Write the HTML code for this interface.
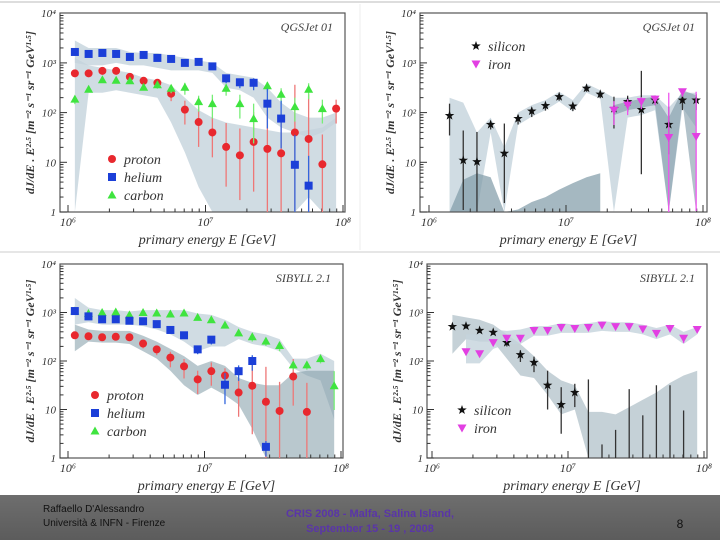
<!DOCTYPE html>
<html><head><meta charset="utf-8"><style>
html,body{margin:0;padding:0;width:720px;height:540px;overflow:hidden;background:#fff;font-family:"Liberation Sans",sans-serif}
svg{position:absolute;left:0;top:0}
</style></head><body>
<svg id="s" width="720" height="540">
<rect x="0" y="0" width="720" height="540" fill="#fff"/>
<line x1="0" y1="2" x2="720" y2="2" stroke="#bbb"/>
<line x1="0" y1="252" x2="720" y2="252" stroke="#ccc"/>
<line x1="360" y1="4" x2="360" y2="250" stroke="#eee"/>
<defs><linearGradient id="fg" x1="0" y1="0" x2="0" y2="1"><stop offset="0" stop-color="#6e6e6e"/><stop offset="1" stop-color="#5c5c5c"/></linearGradient></defs>
<g>
<rect x="0" y="495" width="720" height="45" fill="url(#fg)"/>
<text x="43" y="512" font-size="10" fill="#111">Raffaello D'Alessandro</text>
<text x="43" y="526" font-size="10" fill="#111">Università &amp; INFN - Firenze</text>
<text x="370" y="517" font-size="11" font-weight="bold" fill="#5a35a8" text-anchor="middle">CRIS 2008 -    Malfa, Salina Island,</text>
<text x="370" y="532" font-size="11" font-weight="bold" fill="#5a35a8" text-anchor="middle">September 15 - 19 , 2008</text>
<text x="680" y="528" font-size="12" fill="#111" text-anchor="middle">8</text>
</g>
</svg>
<script>
// bins: log10(E) centres
const binsLog = [6.05,6.15,6.25,6.35,6.45,6.55,6.65,6.75,6.85,6.95,7.05,7.15,7.25,7.35,7.45,7.55,7.65,7.75,7.85,7.95];
// ---- TL (QGSJet proton/helium/carbon), values in log10
const tlProton = [2.79,2.79,2.84,2.84,2.72,2.64,2.60,2.38,2.06,1.81,1.60,1.31,1.14,1.41,1.27,1.18,1.60,1.47,0.96,2.08];
const tlProtonErr = [0.05,0.05,0.05,0.05,0.06,0.06,0.08,0.15,0.3,0.5,0.5,0.8,0.9,1.0,1.3,1.2,1.6,1.5,1.0,0.3];
const tlHelium = [3.22,3.18,3.20,3.18,3.12,3.16,3.10,3.08,3.00,3.02,2.93,2.69,2.61,2.60,2.18,1.88,0.95,0.53];
const tlHeliumErr = [0.04,0.04,0.04,0.04,0.04,0.04,0.04,0.05,0.05,0.05,0.06,0.1,0.12,0.15,0.5,0.6,1.0,1.0];
const tlCarbon = [2.27,2.47,2.66,2.65,2.64,2.51,2.56,2.49,2.51,2.22,2.18,2.49,2.18,1.88,2.54,2.37,2.12,2.47,2.08];
const tlCarbonErr = [0.1,0.06,0.05,0.05,0.05,0.06,0.08,0.1,0.15,0.2,0.3,0.15,0.3,0.5,0.12,0.2,0.3,0.2,0.3];
const tlBandAHi = [3.45,3.30,3.30,3.30,3.22,3.20,3.20,3.15,3.10,3.05,3.00,2.80,2.75,2.70,2.50,2.20,2.00,1.90,1.90,2.00];
const tlBandALo = [3.00,2.95,2.95,3.00,2.95,2.95,2.90,2.85,2.85,2.85,2.80,2.50,2.45,2.30,1.90,1.70,1.60,1.50,1.60,1.80];
const tlBandBHi = [3.10,2.95,2.90,2.85,2.80,2.70,2.65,2.55,2.30,2.05,1.90,1.80,1.75,1.70,1.65,1.60,1.60,1.65,1.70,1.90];
const tlBandBLo = [0.00,2.40,2.40,2.45,2.40,2.35,2.30,1.80,1.20,0.50,0.00,0.00,0.00,0.00,0.00,0.00,0.00,0.30,0.00,0.00];
// ---- TR (QGSJet silicon/iron), silicon starts bin 1, iron bin 13
const trSilicon = [1.94,1.04,1.01,1.76,1.18,1.88,2.03,2.14,2.32,2.13,2.49,2.37,2.08,2.22,2.06,2.25,1.76,2.25,2.25];
const trSiliconErr = [0.4,1.0,1.0,0.1,1.0,0.12,0.12,0.1,0.08,0.1,0.07,0.08,0.4,0.2,1.3,0.1,0.6,0.2,0.2];
const trIron = [2.05,2.15,2.22,2.27,1.50,2.42,1.52];
const trIronErr = [0.3,0.2,0.15,0.12,1.5,0.1,1.5];
const trBandHi = [2.30,2.20,1.60,1.90,1.30,2.00,2.15,2.25,2.42,2.25,2.58,2.45,2.30,2.30,2.35,2.35,2.10,2.40,2.40];
const trBandLo = [0.00,0.00,0.00,1.60,0.00,1.75,1.92,2.05,2.22,2.02,2.40,2.28,0.00,1.90,1.95,2.05,0.00,2.10,1.70];
const trDarkHi = [0.00,0.65,0.78,0.70,0.00,0.05,0.20,0.30,0.45,0.58,0.70,0.78];
const trIronBandHi = [2.15,2.22,2.28,2.32,1.90,2.45,2.35];
const trIronBandLo = [1.95,2.05,2.10,2.15,0.00,2.20,0.00];
// ---- BL (SIBYLL proton/helium/carbon)
const blProton = [2.53,2.51,2.49,2.50,2.49,2.36,2.24,2.07,1.89,1.62,1.79,1.70,1.35,1.49,1.16,0.97,1.68,0.95];
const blProtonErr = [0.07,0.07,0.06,0.07,0.08,0.1,0.12,0.2,0.25,0.3,0.3,0.25,0.5,1.0,1.2,1.0,0.6,1.0];
const blHelium = [3.03,2.92,2.86,2.86,2.83,2.82,2.76,2.64,2.53,2.24,2.44,1.51,1.79,2.00,0.23];
const blHeliumErr = [0.04,0.04,0.04,0.04,0.04,0.04,0.05,0.06,0.06,0.1,0.1,0.4,0.2,0.2,0.2];
const blCarbon = [3.03,2.98,3.00,3.01,2.95,3.00,2.99,2.97,2.99,2.90,2.85,2.74,2.58,2.50,2.41,2.32,1.92,1.92,2.05,1.49];
const blCarbonErr = [0.04,0.04,0.04,0.04,0.04,0.04,0.04,0.04,0.05,0.05,0.05,0.06,0.07,0.1,0.1,0.12,0.1,0.1,0.1,0.5];
const blBandAHi = [3.30,3.10,3.05,3.05,3.02,3.05,3.05,3.05,3.05,2.98,2.95,2.85,2.70,2.60,2.55,2.45,2.05,2.05,2.15,2.00];
const blBandALo = [2.75,2.80,2.75,2.75,2.75,2.72,2.65,2.55,2.40,2.20,2.30,2.30,2.45,2.35,2.30,2.20,1.85,1.70,1.60,0.80];
const blBandBHi = [2.75,2.65,2.62,2.62,2.62,2.52,2.40,2.25,2.10,1.90,2.00,1.90,1.65,1.55,1.50,1.50,1.75,1.80,1.80,1.80];
const blBandBLo = [2.20,2.40,2.38,2.38,2.35,2.20,2.05,1.80,1.50,1.30,1.45,1.30,1.10,0.60,0.00,0.00,0.00,0.00,0.00,0.00];
// ---- BR (SIBYLL silicon/iron), silicon bin 1.., iron bin 2..
const brSilicon = [2.71,2.72,2.63,2.59,2.38,2.13,1.97,1.50,1.10,1.35];
const brSiliconErr = [0.05,0.05,0.05,0.05,0.08,0.15,0.2,0.5,0.6,0.3];
const brSiliconUL = [0,0,0,0,0,0,0,0,0,0,1.62,0.28,0.58,1.42,0.88,1.50,1.50,0.98];
const brIron = [2.19,2.15,2.38,2.47,2.47,2.63,2.63,2.69,2.67,2.69,2.74,2.71,2.71,2.66,2.57,2.67,2.47,2.65];
const brIronErr = [0.04,0.04,0.04,0.04,0.04,0.04,0.04,0.04,0.04,0.04,0.04,0.04,0.04,0.04,0.04,0.04,0.1,0.06];
const brBandAHi = [2.95,2.90,2.85,2.75,2.55,2.35,2.10,1.80,1.60,1.50,0.95,0.95,0.90,1.05,1.20,1.35,1.55,1.70,1.80];
const brBandALo = [2.15,2.45,2.40,2.40,2.05,1.70,1.65,1.30,0.90,1.00,0.00,0.00,0.00,0.00,0.00,0.00,0.00,0.00,0.00];
const brBandBHi = [2.55,2.55,2.65,2.62,2.65,2.72,2.72,2.78,2.75,2.78,2.82,2.80,2.80,2.75,2.68,2.75,2.60,2.70];
const brBandBLo = [1.95,1.95,2.25,2.35,2.35,2.52,2.52,2.58,2.58,2.58,2.62,2.60,2.60,2.55,2.45,2.55,2.35,2.55];

const NS='http://www.w3.org/2000/svg';
const svg=document.getElementById('s');
function mk(tag,attrs,parent){const e=document.createElementNS(NS,tag);for(const k in attrs)e.setAttribute(k,attrs[k]);(parent||svg).appendChild(e);return e;}

function panel(P){
  const g=mk('g',{});
  
  
  P.g=g;
  P.X=l=>P.x0+(l-6)*P.xs;
  P.Y=l=>P.y1-Math.max(0,Math.min(4,l))*P.ys;
  return g;
}
function band(P,hi,lo,off,fill,op,name){
  let pts=[];
  for(let i=0;i<hi.length;i++)pts.push(P.X(binsLog[i+off])+','+P.Y(hi[i]));
  for(let i=lo.length-1;i>=0;i--)pts.push(P.X(binsLog[i+off])+','+P.Y(lo[i]));
  const p=mk('polygon',{points:pts.join(' '),fill:fill,opacity:op},P.g);
  
  
}
function frame(P){
  const g=P.g;
  const r=mk('rect',{x:P.fx0,y:P.fy0,width:P.fx1-P.fx0,height:P.y1-P.fy0,fill:'none',stroke:'#555','stroke-width':1.2},g);
  
  
  for(let d=0;d<2;d++){for(let m=1;m<=10;m++){const l=6+d+Math.log10(m);const x=P.X(l);const len=(m==1||m==10)?7:3.5;
    mk('line',{x1:x,y1:P.y1,x2:x,y2:P.y1-len,stroke:'#333','stroke-width':1},g);}}
  for(let d=0;d<4;d++){for(let m=1;m<10;m++){const y=P.Y(d+Math.log10(m));const len=m==1?7:3.5;
    mk('line',{x1:P.fx0,y1:y,x2:P.fx0+len,y2:y,stroke:'#333','stroke-width':1},g);}}
  const ylabs=['1','10','10²','10³','10⁴'];
  ylabs.forEach((t,i)=>{const tx=mk('text',{x:P.fx0-4,y:P.Y(i)+4,'font-size':11,'font-style':'italic','text-anchor':'end','font-family':'Liberation Serif, serif',fill:'#333'},g);tx.textContent=t;
    });
  ['10⁶','10⁷','10⁸'].forEach((t,i)=>{const tx=mk('text',{x:P.X(6+i),y:P.y1+14,'font-size':12,'font-style':'italic','text-anchor':'middle','font-family':'Liberation Serif, serif',fill:'#333'},g);tx.textContent=t;
    });
  const xt=mk('text',{x:(P.fx0+P.fx1)/2+5,y:P.y1+32,'font-size':14,'font-style':'italic','text-anchor':'middle','font-family':'Liberation Serif, serif',fill:'#333'},g);
  xt.textContent='primary energy E  [GeV]';
  
  const cy=(P.fy0+P.y1)/2;
  const yt=mk('text',{x:0,y:0,transform:`translate(${P.fx0-26},${cy}) rotate(-90)`,'font-size':12,'font-style':'italic','font-weight':'bold','text-anchor':'middle','font-family':'Liberation Serif, serif',fill:'#333'},g);
  yt.textContent='dJ/dE . E²·⁵  [m⁻² s⁻¹ sr⁻¹ GeV¹·⁵]';
  
  const mt=mk('text',{x:P.fx1-12,y:P.fy0+18,'font-size':12,'font-style':'italic','text-anchor':'end','font-family':'Liberation Serif, serif',fill:'#444'},g);
  mt.textContent=P.model;
  
}
function marker(g,type,x,y,col){
  if(type=='circle')return mk('circle',{cx:x,cy:y,r:4,fill:col},g);
  if(type=='square')return mk('rect',{x:x-4,y:y-4,width:8,height:8,fill:col},g);
  if(type=='tri')return mk('polygon',{points:`${x},${y-4.5} ${x-4.5},${y+3.5} ${x+4.5},${y+3.5}`,fill:col},g);
  if(type=='itri')return mk('polygon',{points:`${x},${y+4.5} ${x-4.5},${y-3.5} ${x+4.5},${y-3.5}`,fill:col},g);
  if(type=='star'){let p=[];for(let k=0;k<10;k++){const a=-Math.PI/2+k*Math.PI/5;const r=k%2?2:5;p.push((x+r*Math.cos(a))+','+(y+r*Math.sin(a)));}return mk('polygon',{points:p.join(' '),fill:col},g);}
}
function series(P,vals,errs,off,type,col,ecol,name){
  const g=mk('g',{},P.g);
  
  
  vals.forEach((v,i)=>{
    const x=P.X(binsLog[i+off]);
    const e=errs[i];
    const l=mk('line',{x1:x,y1:P.Y(v+e*0.6),x2:x,y2:P.Y(v-e),stroke:ecol,'stroke-width':1.3},g);
    
    const m=marker(g,type,x,P.Y(v),col);
    
    
  });
}
function legend(P,x,y,items){
  items.forEach((it,i)=>{
    const yy=y+i*18;
    const m=marker(P.g,it[0],x,yy,it[1]);
    
    const t=mk('text',{x:x+12,y:yy+5,'font-size':14,'font-style':'italic','font-family':'Liberation Serif, serif',fill:'#333'},P.g);
    t.textContent=it[2];
    
  });
}
const RED='#e8282e',BLUE='#1b3fd8',GREEN='#3fe43f',BLACK='#111',MAG='#e23fe2';
const LB='#c4d3dc',DB='#7f9aa6';

// TL
const TL={name:'panel-qgsjet-light',x0:68,xs:137.5,y1:212,ys:49.7,fx0:60,fx1:345,fy0:13,model:'QGSJet 01'};
panel(TL);
band(TL,tlBandBHi,tlBandBLo,0,LB,0.8,'band-proton');
band(TL,tlBandAHi,tlBandALo,0,LB,0.8,'band-helium');
frame(TL);
series(TL,tlProton,tlProtonErr,0,'circle',RED,'#e77','proton-series');
series(TL,tlCarbon,tlCarbonErr,0,'tri',GREEN,'#7e7','carbon-series');
series(TL,tlHelium,tlHeliumErr,0,'square',BLUE,'#36d','helium-series');
legend(TL,112,159,[['circle',RED,'proton'],['square',BLUE,'helium'],['tri',GREEN,'carbon']]);

// TR
const TR={name:'panel-qgsjet-heavy',x0:429,xs:137,y1:212,ys:49.7,fx0:420,fx1:707,fy0:13,model:'QGSJet 01'};
panel(TR);
band(TR,trBandHi,trBandLo,1,LB,0.8,'band-silicon');
band(TR,trDarkHi,trDarkHi.map(()=>0),1,DB,0.7,'band-iron-low');
band(TR,trIronBandHi,trIronBandLo,13,DB,0.6,'band-iron');
frame(TR);
series(TR,trSilicon,trSiliconErr,1,'star',BLACK,'#333','silicon-series');
series(TR,trIron,trIronErr,13,'itri',MAG,'#e5e','iron-series');
legend(TR,476,46,[['star',BLACK,'silicon'],['itri',MAG,'iron']]);

// BL
const BL={name:'panel-sibyll-light',x0:68,xs:136.5,y1:458,ys:48.5,fx0:60,fx1:343,fy0:264,model:'SIBYLL 2.1'};
panel(BL);
band(BL,blBandAHi,blBandALo,0,LB,0.8,'band-helium-carbon');
band(BL,blBandBHi,blBandBLo,0,DB,0.55,'band-proton');
frame(BL);
series(BL,blProton,blProtonErr,0,'circle',RED,'#e77','proton-series');
series(BL,blCarbon,blCarbonErr,0,'tri',GREEN,'#7e7','carbon-series');
series(BL,blHelium,blHeliumErr,0,'square',BLUE,'#36d','helium-series');
legend(BL,95,395,[['circle',RED,'proton'],['square',BLUE,'helium'],['tri',GREEN,'carbon']]);

// BR
const BR={name:'panel-sibyll-heavy',x0:432,xs:136,y1:458,ys:48.5,fx0:427,fx1:707,fy0:264,model:'SIBYLL 2.1'};
panel(BR);
band(BR,brBandAHi,brBandALo,1,DB,0.45,'band-silicon');
band(BR,brBandBHi,brBandBLo,2,LB,0.8,'band-iron');
frame(BR);
brSiliconUL.forEach((v,i)=>{if(v<=0)return;const x=BR.X(binsLog[i+1]);
  const l=mk('line',{x1:x,y1:BR.Y(v),x2:x,y2:BR.Y(0),stroke:'#333','stroke-width':1.3},BR.g);
  });
series(BR,brSilicon,brSiliconErr,1,'star',BLACK,'#333','silicon-series');
series(BR,brIron,brIronErr,2,'itri',MAG,'#e5e','iron-series');
legend(BR,462,410,[['star',BLACK,'silicon'],['itri',MAG,'iron']]);
</script>
</body></html>
